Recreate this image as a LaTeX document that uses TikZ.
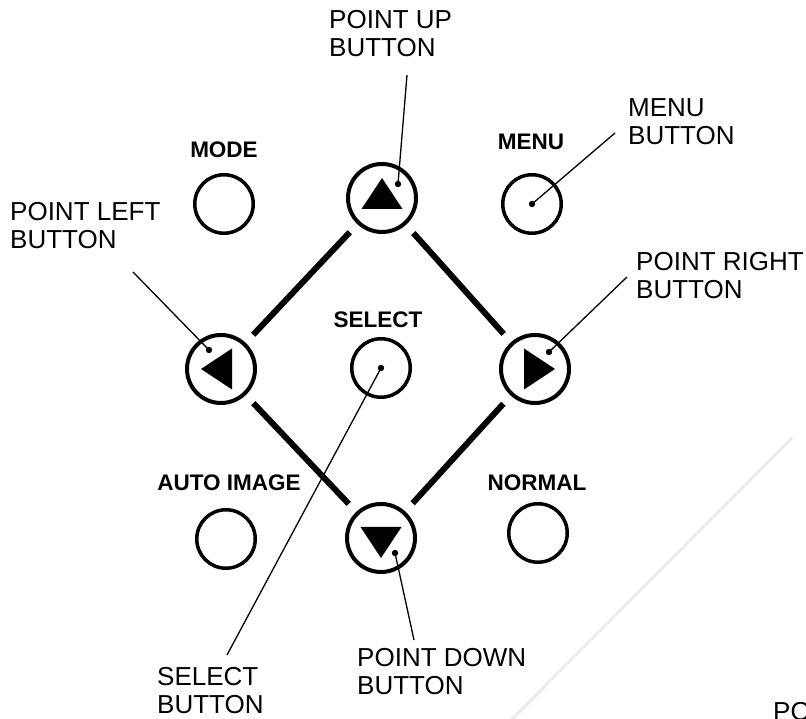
\documentclass[tikz,border=0pt]{standalone}
\usepackage{fontspec}
\setmainfont{Liberation Sans}
\usetikzlibrary{calc}
\tikzset{
  btn/.style={circle, draw, line width=3.5pt, minimum size=58.5pt, inner sep=0},
  arrowbtn/.style={circle, draw, line width=4pt, minimum size=68pt, inner sep=0},
  keylbl/.style={font=\fontsize{22.5}{24}\selectfont\bfseries, inner sep=0},
  calllbl/.style={font=\fontsize{26}{28.5}\selectfont, align=left, anchor=north west, inner sep=0},
  padline/.style={line width=6pt, shorten >=11pt, shorten <=11pt},
  leader/.style={line width=1.3pt}
}

\begin{document}
\begin{tikzpicture}[x=1pt,y=1pt]
\useasboundingbox (0,0) rectangle (806,719);
\draw[gray!15, line width=3pt] (792,281)--(510,-2);
% keys
\node[btn] (mode) at (224,515) {};
\node[btn] (menu) at (532,515) {};
\node[btn] (select) at (381,351) {};
\node[btn] (auto) at (226,180) {};
\node[btn] (normal) at (538,186) {};
\node[arrowbtn] (up) at (382,521) {};
\node[arrowbtn] (left) at (221,350) {};
\node[arrowbtn] (right) at (535,350) {};
\node[arrowbtn] (down) at (381,181) {};
\foreach \b/\r in {up/0,left/90,down/180,right/-90} {
  \fill[shift={(\b)}, rotate=\r] (0,20)--(-20.5,-11)--(20.5,-11)--cycle;
}
\foreach \a/\b in {up/left,up/right,down/left,down/right} {
  \draw[padline] (\a)--(\b);
}
% key names
\node[keylbl] (modelbl) at (224,569) {MODE};
\node[keylbl] (menulbl) at (531,577) {MENU};
\node[keylbl] (selectlbl) at (378,399) {SELECT};
\node[keylbl] (autolbl) at (229,236) {AUTO IMAGE};
\node[keylbl] (normallbl) at (537,236) {NORMAL};
% callouts
\node[calllbl] (uptxt) at (329,709) {POINT UP\\BUTTON};
\node[calllbl] (menutxt) at (628,621) {MENU\\BUTTON};
\node[calllbl] (righttxt) at (636,467) {POINT RIGHT\\BUTTON};
\node[calllbl] (lefttxt) at (10,517) {POINT LEFT\\BUTTON};
\node[calllbl] (selecttxt) at (157,52) {SELECT\\BUTTON};
\node[calllbl] (downtxt) at (357,71) {POINT DOWN\\BUTTON};
\node[calllbl] (potxt) at (773,17) {PO};
\coordinate (updot) at ($(up)+(16,14)$);
\coordinate (menudot) at (menu);
\coordinate (rightdot) at ($(right)+(14,17)$);
\coordinate (leftdot) at ($(left)+(-12,19)$);
\coordinate (selectdot) at (select);
\coordinate (downdot) at ($(down)+(14,-15)$);
\coordinate (upend) at (407,644);
\coordinate (menuend) at (615,586);
\coordinate (rightend) at (627,442);
\coordinate (leftend) at (133,447);
\coordinate (selectend) at (227,64);
\coordinate (downend) at (414,79);
\foreach \k in {up,menu,right,left,select,down} {
  \fill (\k dot) circle (3.2);
  \draw[leader] (\k dot)--(\k end);
}
\end{tikzpicture}
\end{document}
